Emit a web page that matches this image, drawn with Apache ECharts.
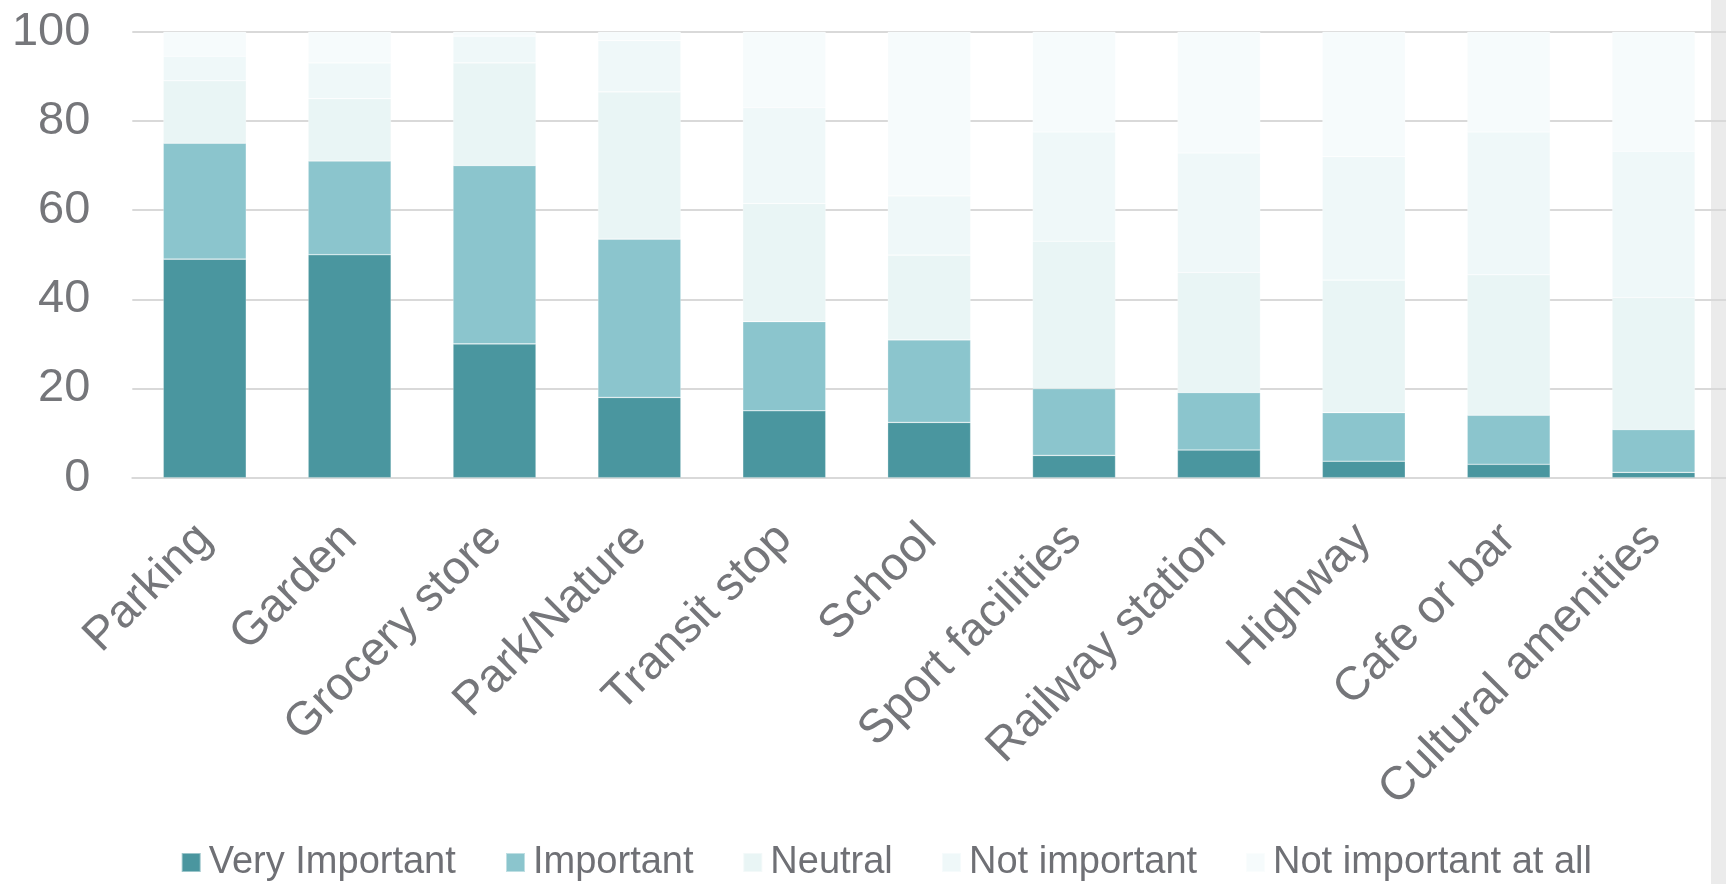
<!DOCTYPE html>
<html>
<head>
<meta charset="utf-8">
<script src="https://cdn.jsdelivr.net/npm/echarts@6/dist/echarts.min.js"></script>
<style>
html,body{margin:0;padding:0;background:#fff;}
#c{width:1726px;height:884px;}
</style>
</head>
<body>
<div id="c"></div>
<script>
const categories = ["Parking","Garden","Grocery store","Park/Nature","Transit stop","School","Sport facilities","Railway station","Highway","Cafe or bar","Cultural amenities"];
const seriesNames = ["Very Important","Important","Neutral","Not important","Not important at all"];
const veryImportant = [49, 50, 30, 18, 15, 12.4, 5, 6.2, 3.7, 3, 1.2];
const important     = [26, 21, 40, 35.5, 20, 18.5, 15, 12.9, 10.9, 11, 9.6];
const neutral       = [14, 14, 23, 33, 26.5, 19, 33, 26.9, 29.7, 31.5, 29.6];
const notImportant  = [5.5, 8, 6, 11.5, 21.5, 13.3, 24.5, 26.8, 27.7, 32, 32.8];
const notAtAll      = [5.5, 7, 1, 2, 17, 36.8, 22.5, 27.2, 28, 22.5, 26.8];
const yTicks = [0, 20, 40, 60, 80, 100];

const colors = ["#4a969f","#8bc5cd","#e9f5f5","#eff8f9","#f6fbfc"];
const values = [veryImportant, important, neutral, notImportant, notAtAll];
const legendLeft = [180.7, 505, 742.3, 941, 1245];
const FONT = "'Liberation Sans', Arial, sans-serif";
const GRAY = "#75767a";

const chart = echarts.init(document.getElementById('c'), null, {renderer:'canvas'});
chart.setOption({
  animation:false,
  backgroundColor:'#fff',
  graphic:[{type:'rect', z:-10, silent:true, shape:{x:1711,y:0,width:15,height:884}, style:{fill:'#ebebeb'}}],
  grid:{left:132.3, right:-4, top:31.7, bottom:406.3, containLabel:false},
  legend: seriesNames.map((n,i)=>({
    data:[n], left:legendLeft[i], top:843.5, padding:0, icon:'rect', itemWidth:19, itemHeight:19,
    textStyle:{fontFamily:FONT, fontSize:38, lineHeight:38, color:'#6f7075', padding:[0,0,0,3]}
  })),
  xAxis:{
    type:'category', data:categories,
    axisLine:{lineStyle:{color:'#d9d9d9', width:2}},
    axisTick:{show:false},
    axisLabel:{rotate:45, interval:0, margin:54, fontFamily:FONT, fontSize:47, color:GRAY}
  },
  yAxis:{
    type:'value', min:yTicks[0], max:yTicks[yTicks.length-1], interval:20,
    axisLine:{show:false}, axisTick:{show:false},
    splitLine:{lineStyle:{color:'#d9d9d9', width:2}},
    axisLabel:{margin:42, fontFamily:FONT, fontSize:47, color:GRAY}
  },
  series: seriesNames.map((n,i)=>({
    name:n, type:'bar', stack:'total', data:values[i], barWidth:83,
    itemStyle:{color:colors[i], borderColor:'rgba(255,255,255,0.45)', borderWidth:0.6}
  }))
});
</script>
</body>
</html>
